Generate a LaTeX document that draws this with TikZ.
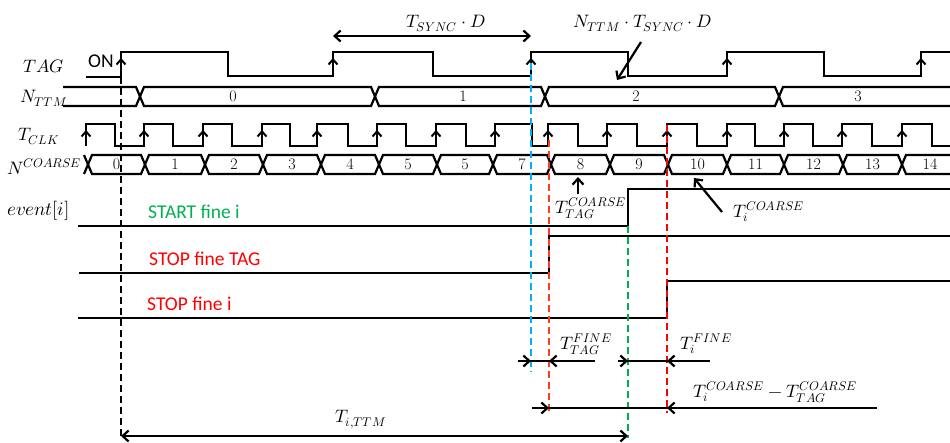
\documentclass[tikz,border=0pt]{standalone}
\usepackage{fontspec}
\usepackage{unicode-math}
\setmathfont{Latin Modern Math}
\newfontfamily\carl{Carlito}
\usetikzlibrary{arrows.meta}
\definecolor{ogreen}{HTML}{00B050}
\definecolor{ored}{HTML}{FF0000}
\definecolor{ored2}{HTML}{FF3C1E}
\definecolor{oblue}{HTML}{00B0F0}
\begin{document}
\begin{tikzpicture}[x=1pt,y=-1pt,
  >={Straight Barb[length=6pt,width=11pt]},
  sig/.style={line width=2.4pt, line join=miter},
  bus/.style={line width=2.2pt, line join=miter},
  vdash/.style={line width=2pt, dash pattern=on 7pt off 4pt},
  edgearr/.style={line width=2pt, -{Straight Barb[length=5pt,width=9pt]}},
  dimarr/.style={line width=2.2pt},
  lbl/.style={anchor=base west, inner sep=0pt, font=\fontsize{18}{20}\selectfont},
  busnum/.style={inner sep=0pt, font=\fontsize{16}{18}\selectfont},
  evtxt/.style={anchor=base west, inner sep=0pt, font=\carl\fontsize{19.5}{21}\selectfont}
]
\useasboundingbox (0,0) rectangle (950,442);

% ---- left labels
\node[lbl] (lTAG) at (23,72) {$TAG$};
\node[lbl] (lNTTM) at (20,102) {$N_{TTM}$};
\node[lbl] (lTCLK) at (18,140) {$T_{CLK}$};
\node[lbl] (lNC) at (7,174) {$N^{COARSE}$};
\node[lbl, font=\fontsize{19}{21}\selectfont] (lev) at (7,215) {$event[i]$};
\node[evtxt] (on) at (88,67) {ON};

% ---- TAG waveform
\draw[sig] (86,77) -- (121,77) -- (121,52) -- (228,52) -- (228,76) -- (333,76) -- (333,52)
  -- (433,52) -- (433,76) -- (531,76) -- (531,52) -- (628,52) -- (628,76) -- (727,76)
  -- (727,52) -- (824,52) -- (824,76) -- (921,76) -- (921,52) -- (950,52);
\foreach \x in {121,333,531,727,921} \draw[edgearr] (\x,76) -- (\x,58);

% ---- N_TTM bus
\draw[bus] (63,87) -- (136,87) -- (140,96.5) -- (136,106) -- (63,106);
\foreach \a/\b in {140/375,375/545,545/779}
  \draw[bus] ({\a+4},87) -- ({\b-4},87) -- (\b,96.5) -- ({\b-4},106) -- ({\a+4},106) -- (\a,96.5) -- cycle;
\draw[bus] (950,87) -- (783,87) -- (779,96.5) -- (783,106) -- (950,106);
\node[busnum] (tt0) at (233,96.5) {0};
\node[busnum] (tt1) at (463,96.5) {1};
\node[busnum] (tt2) at (636,96.5) {2};
\node[busnum] (tt3) at (858,96.5) {3};

% ---- T_CLK
\draw[sig] (86,146) -- (86,124) -- (115,124) -- (115,146) -- (144,146) -- (144,124) -- (173,124)
  -- (173,146) -- (203,146) -- (203,124) -- (232,124) -- (232,146) -- (262,146) -- (262,124)
  -- (290,124) -- (290,146) -- (317,146) -- (317,124) -- (348,124) -- (348,146) -- (377,146)
  -- (377,124) -- (406,124) -- (406,146) -- (436,146) -- (436,124) -- (466,124) -- (466,146)
  -- (495,146) -- (495,124) -- (532,124) -- (532,146) -- (548,146) -- (548,124) -- (578,124)
  -- (578,146) -- (607,146) -- (607,124) -- (637,124) -- (637,146) -- (667,146) -- (667,124)
  -- (697,124) -- (697,146) -- (727,146) -- (727,124) -- (755,124) -- (755,146) -- (784,146)
  -- (784,124) -- (813,124) -- (813,146) -- (842,146) -- (842,124) -- (872,124) -- (872,146)
  -- (902,146) -- (902,124) -- (932,124) -- (932,146) -- (950,146);
\foreach \x in {86,144,203,262,317,377,436,495,548,607,667,727,784,842,902}
  \draw[edgearr] (\x,146) -- (\x,130);

% ---- N_COARSE bus
\draw[bus] (84,155) -- (88,164.5) -- (84,174);
\foreach \a/\b/\t [count=\i] in {88/145/0,145/205/1,205/263/2,263/321/3,321/379/4,379/437/5,
    437/493/5,493/551/7,551/610/8,610/668/9,668/727/10,727/784/11,784/843/12,843/902/13}{
  \draw[bus] ({\a+4},155) -- ({\b-4},155) -- (\b,164.5) -- ({\b-4},174) -- ({\a+4},174) -- (\a,164.5) -- cycle;
  \node[busnum] (nc\i) at ({(\a+\b)/2},164.5) {\t};
}
\draw[bus] (950,155) -- (906,155) -- (902,164.5) -- (906,174) -- (950,174);
\node[busnum] (nc15) at (930,164.5) {14};

% ---- event lines
\draw[sig] (78,226) -- (628,226) -- (628,189) -- (950,189);
\draw[sig] (79,273) -- (549,273) -- (549,236) -- (950,236);
\draw[sig] (78,318) -- (667,318) -- (667,281) -- (950,281);
\node[evtxt, text=ogreen] (st) at (148,218) {START fine i};
\node[evtxt, text=ored] (sp1) at (149,265) {STOP fine TAG};
\node[evtxt, text=ored] (sp2) at (147,310) {STOP fine i};

% ---- dashed markers
\draw[vdash] (121,77) -- (121,436);
\draw[vdash, oblue] (531,63) -- (531,372);
\draw[vdash, ored2] (549,140) -- (549,413);
\draw[vdash, ogreen] (628,226) -- (628,438);
\draw[vdash, ored] (667,125) -- (667,413);

% ---- annotations
\node[lbl] (tsync) at (406,27) {$T_{SYNC}\cdot D$};
\draw[dimarr,<->] (333,36) -- (531,36);
\node[lbl] (nttm) at (573,27) {$N_{TTM}\cdot T_{SYNC}\cdot D$};
\coordinate (n1) at (641,42); \coordinate (n2) at (617,80);
\draw[dimarr,->] (n1) -- (n2);

\node[lbl] (tagc) at (555,213) {$T_{TAG}^{COARSE}$};
\coordinate (tc1) at (578,194); \coordinate (tc2) at (578,177);
\draw[dimarr,->] (tc1) -- (tc2);
\node[lbl] (ic) at (733,217) {$T_{i}^{COARSE}$};
\coordinate (ic1) at (722,212); \coordinate (ic2) at (694,178);
\draw[dimarr,->] (ic1) -- (ic2);

\node[lbl] (tagf) at (560,349) {$T_{TAG}^{FINE}$};
\draw[dimarr] (518,361) -- (595,361);
\draw[dimarr,->] (518,361) -- (531,361);
\draw[dimarr,->] (595,361) -- (549,361);

\node[lbl] (ifine) at (680,349) {$T_{i}^{FINE}$};
\draw[dimarr] (618,361) -- (710,361);
\draw[dimarr,->] (618,361) -- (628,361);
\draw[dimarr,->] (710,361) -- (667,361);

\node[lbl] (diff) at (693,397) {$T_{i}^{COARSE}-T_{TAG}^{COARSE}$};
\draw[dimarr] (532,408) -- (877,408);
\draw[dimarr,->] (532,408) -- (549,408);
\draw[dimarr,->] (877,408) -- (667,408);

\node[lbl] (tittm) at (335,422) {$T_{i,TTM}$};
\draw[dimarr,<->] (121,436) -- (628,436);
\end{tikzpicture}
\end{document}
